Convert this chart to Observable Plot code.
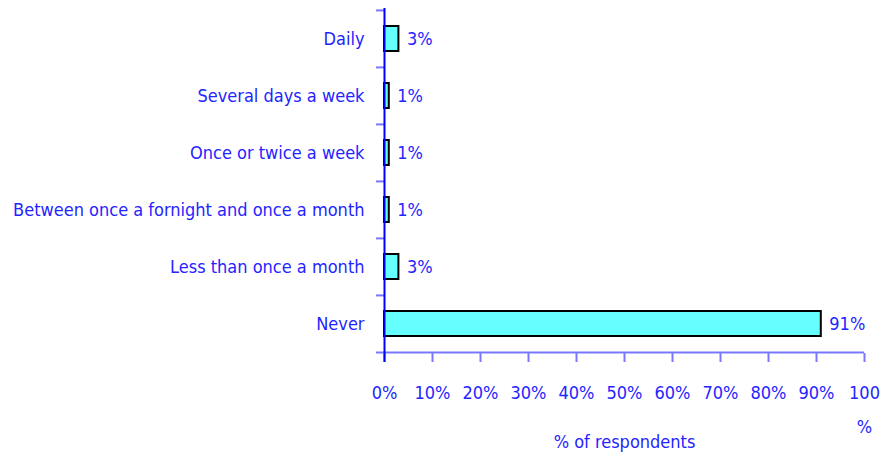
<!DOCTYPE html>
<html>
<head>
<meta charset="utf-8">
<script src="https://cdn.jsdelivr.net/npm/d3@7"></script>
<script src="https://cdn.jsdelivr.net/npm/@observablehq/plot@0.6"></script>
<style>
  html, body { margin: 0; padding: 0; background: #fff; }
</style>
</head>
<body>
<div id="chart"></div>
<script>
const categories = [
  "Daily",
  "Several days a week",
  "Once or twice a week",
  "Between once a fornight and once a month",
  "Less than once a month",
  "Never"
];
const values = [3, 1, 1, 1, 3, 91];
const xTicks = [0, 10, 20, 30, 40, 50, 60, 70, 80, 90, 100];
const xTickLabels = ["0%", "10%", "20%", "30%", "40%", "50%", "60%", "70%", "80%", "90%", "100\n%"];
const xLabel = "% of respondents";

const data = categories.map((c, i) => ({category: c, value: values[i]}));

const textColor = "#2424ff";
const tickColor = "#7878ff";
const font = "'Liberation Sans Narrow', 'DejaVu Sans Condensed', 'Liberation Sans', sans-serif";
const fs = 18;
const W = 891, H = 456;
const mL = 384, mR = 27, mT = 10, mB = 103;
const step = (H - mT - mB) / categories.length;
const sepLen = 8 / ((W - mL - mR) / 100); // separator tick length in x units

const chart = Plot.plot({
  width: W,
  height: H,
  marginLeft: mL,
  marginRight: mR,
  marginTop: mT,
  marginBottom: mB,
  style: {fontFamily: font, fontSize: fs + "px", color: textColor, background: "#fff"},
  x: {domain: [0, 100]},
  y: {domain: categories, paddingInner: 0.56, paddingOuter: 0.28},
  marks: [
    // category separators on the y axis
    Plot.ruleY(categories, {y: d => d, dy: -step / 2, x1: -sepLen, x2: 0, stroke: tickColor, strokeWidth: 2}),
    Plot.ruleY([categories[categories.length - 1]], {y: d => d, dy: step / 2, x1: -sepLen, x2: 100, stroke: tickColor, strokeWidth: 2}),
    Plot.barX(data, {x: "value", y: "category", fill: "#66ffff", stroke: "#000", strokeWidth: 2}),
    Plot.text(data, {x: "value", y: "category", text: d => d.value + "%", textAnchor: "start", dx: 8, fill: textColor, fontSize: fs}),
    Plot.axisY({tickSize: 0, tickPadding: 20, label: null, fill: textColor, fontSize: fs}),
    Plot.axisX({ticks: xTicks, tickFormat: d => xTickLabels[xTicks.indexOf(d)], tickSize: 9, tickPadding: 13, stroke: tickColor, strokeWidth: 2, label: null, fill: textColor, fontSize: fs, lineHeight: 1.86, textAnchor: "middle"}),
    Plot.ruleX([0], {stroke: "#0000ff", strokeWidth: 2, insetTop: -2, insetBottom: -9}),
    Plot.text([xLabel], {frameAnchor: "bottom", dy: 94, text: d => d, fill: textColor, fontSize: fs})
  ]
});
document.getElementById("chart").appendChild(chart);
</script>
</body>
</html>
